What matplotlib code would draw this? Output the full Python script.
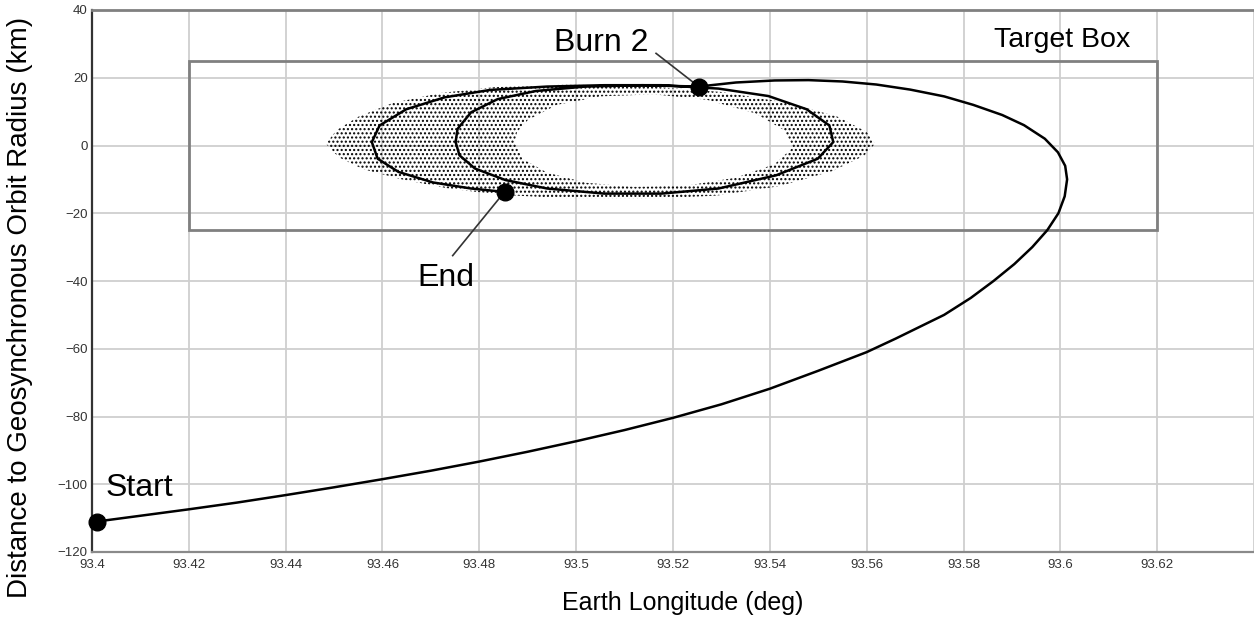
import matplotlib
matplotlib.use("Agg")
import matplotlib.pyplot as plt
from matplotlib.path import Path
from matplotlib.patches import PathPatch, Rectangle

plt.rcParams['font.family'] = ['Liberation Sans', 'DejaVu Sans']
plt.rcParams['hatch.linewidth'] = 1.0

# ---- data ----
x_ticks = [93.4, 93.42, 93.44, 93.46, 93.48, 93.5, 93.52, 93.54, 93.56, 93.58, 93.6, 93.62]
x_tick_labels = ['93.4', '93.42', '93.44', '93.46', '93.48', '93.5', '93.52',
                 '93.54', '93.56', '93.58', '93.6', '93.62']
y_ticks = [-120, -100, -80, -60, -40, -20, 0, 20, 40]

# approach spiral from Start to Burn 2
spiral_lon = [93.401, 93.41, 93.42, 93.43, 93.44, 93.45, 93.46, 93.47, 93.48, 93.49,
              93.50, 93.51, 93.52, 93.53, 93.54, 93.55, 93.56, 93.566, 93.576, 93.5815,
              93.5862, 93.5905, 93.5942, 93.5973, 93.5996, 93.6009, 93.6014, 93.6010,
              93.5995, 93.5968, 93.5925, 93.5880, 93.582, 93.576, 93.569, 93.562,
              93.555, 93.548, 93.541, 93.533, 93.5253]
spiral_dist = [-111.0, -109.3, -107.4, -105.4, -103.2, -100.9, -98.5, -96.0, -93.3, -90.4,
               -87.3, -84.0, -80.4, -76.4, -71.8, -66.5, -61.0, -57.0, -50.0, -45.0,
               -40.0, -35.0, -30.0, -25.0, -20.0, -15.0, -10.0, -6.0,
               -2.0, 2.0, 6.0, 9.0, 12.0, 14.5, 16.5, 18.0,
               18.9, 19.3, 19.2, 18.6, 17.4]

# post-burn drift loops from Burn 2 to End
loop_lon = [93.5251, 93.5137, 93.5019, 93.4917, 93.4838, 93.4783, 93.4755, 93.4751,
            93.4759, 93.4791, 93.4854, 93.4940, 93.5058, 93.5176, 93.5294, 93.5413,
            93.5499, 93.5531, 93.5523, 93.5476, 93.5397, 93.5294, 93.5176, 93.5058,
            93.4940, 93.4822, 93.4728, 93.4649, 93.4594, 93.4578, 93.4590, 93.4633,
            93.4704, 93.4783, 93.4852]
loop_dist = [17.4, 17.8, 17.4, 16.1, 13.7, 9.8, 4.9, 1.0,
             -2.9, -6.8, -10.2, -12.7, -14.2, -14.2, -12.7, -8.8,
             -3.9, 1.0, 5.9, 10.7, 14.6, 16.8, 17.8, 17.8,
             17.4, 16.4, 14.2, 10.7, 5.9, 1.0, -3.9, -7.8,
             -10.9, -12.7, -13.7]

# dotted band of predicted revolutions: outer edge and inner clear region
band_outer_lon = [93.4483, 93.4510, 93.4560, 93.4640, 93.4740, 93.4850, 93.4980, 93.5140,
                  93.5290, 93.5420, 93.5530, 93.5595, 93.5617, 93.5600, 93.5540, 93.5440,
                  93.5300, 93.5140, 93.4980, 93.4830, 93.4720, 93.4620, 93.4550, 93.4505]
band_outer_dist = [0.5, -3.5, -7.0, -10.0, -12.8, -14.6, -15.6, -15.8,
                   -14.8, -12.0, -7.5, -3.0, 0.5, 4.0, 8.5, 12.5,
                   15.8, 17.6, 18.0, 17.2, 15.5, 12.5, 8.5, 4.5]
band_inner_lon = [93.4873, 93.4878, 93.4900, 93.4960, 93.5050, 93.5160, 93.5270, 93.5370,
                  93.5430, 93.5448, 93.5410, 93.5330, 93.5230, 93.5120, 93.5020, 93.4940,
                  93.4890]
band_inner_dist = [1.0, 4.0, 7.5, 12.0, 14.5, 15.1, 13.5, 9.5,
                   4.5, -0.5, -5.5, -9.5, -11.8, -12.2, -11.0, -8.0,
                   -4.0]

target_box = (93.42, -25, 0.20, 50)   # lon0, dist0, width, height
start_pt = (93.401, -111.0)
burn2_pt = (93.5253, 17.4)
end_pt = (93.4852, -13.7)

# ---- figure ----
fig = plt.figure(figsize=(12.54, 6.26), dpi=100)
ax = fig.add_axes([92/1254, 74/626, 1162/1254, 542/626])
ax.set_xlim(93.4, 93.64)
ax.set_ylim(-120, 40)

ax.set_xticks(x_ticks + [93.64])
ax.set_xticklabels(x_tick_labels + [''])
ax.set_yticks(y_ticks)
ax.tick_params(length=0, labelsize=9.5, labelcolor='#333333')
ax.tick_params(axis='x', pad=5)
ax.tick_params(axis='y', pad=3)
ax.grid(True, color='#cfcfcf', linewidth=1.3)
ax.set_axisbelow(True)

ax.spines['right'].set_visible(False)
ax.spines['top'].set_color('#808080')
ax.spines['top'].set_linewidth(2)
ax.spines['left'].set_color('#333333')
ax.spines['left'].set_linewidth(1.6)
ax.spines['bottom'].set_color('#8a8a8a')
ax.spines['bottom'].set_linewidth(1.6)

# target box
ax.add_patch(Rectangle((target_box[0], target_box[1]), target_box[2], target_box[3],
                       fill=False, edgecolor='#808080', linewidth=2, zorder=2))

# dotted band (compound path with hole)
verts = list(zip(band_outer_lon, band_outer_dist)) + [(band_outer_lon[0], band_outer_dist[0])]
codes = [Path.MOVETO] + [Path.LINETO] * (len(band_outer_lon) - 1) + [Path.CLOSEPOLY]
inner = list(zip(band_inner_lon, band_inner_dist))
verts += inner + [inner[0]]
codes += [Path.MOVETO] + [Path.LINETO] * (len(inner) - 1) + [Path.CLOSEPOLY]
band = PathPatch(Path(verts, codes), facecolor='none', edgecolor='black',
                 linewidth=0, hatch='....', zorder=2)
ax.add_patch(band)

# trajectory
ax.plot(spiral_lon, spiral_dist, color='black', linewidth=1.8, zorder=3,
        solid_joinstyle='round')
ax.plot(loop_lon, loop_dist, color='black', linewidth=1.8, zorder=3,
        solid_joinstyle='round')

# points
for p in (start_pt, burn2_pt, end_pt):
    ax.plot(p[0], p[1], 'o', color='black', markersize=12, zorder=5, clip_on=False)

# leader lines
ax.plot([burn2_pt[0], 93.5165], [burn2_pt[1], 27.2], color='#333333', linewidth=1.2, zorder=4)
ax.plot([end_pt[0], 93.4745], [end_pt[1], -32.5], color='#333333', linewidth=1.2, zorder=4)

# annotations
ax.text(93.5150, 30.3, 'Burn 2', fontsize=23, ha='right', va='center', zorder=6)
ax.text(93.4730, -39.0, 'End', fontsize=23, ha='center', va='center', zorder=6)
ax.text(93.4027, -101.0, 'Start', fontsize=23, ha='left', va='center', zorder=6)
ax.text(93.6144, 31.2, 'Target Box', fontsize=20.5, ha='right', va='center', zorder=6)

ax.set_xlabel('Earth Longitude (deg)', fontsize=18)
ax.xaxis.set_label_coords((683 - 92) / 1162, -(591 - 552) / 542)
ax.set_ylabel('Distance to Geosynchronous Orbit Radius (km)', fontsize=20)
ax.yaxis.set_label_coords((33 - 92) / 1162, (552 - 307) / 542)

fig.savefig('out.png', dpi=100)
